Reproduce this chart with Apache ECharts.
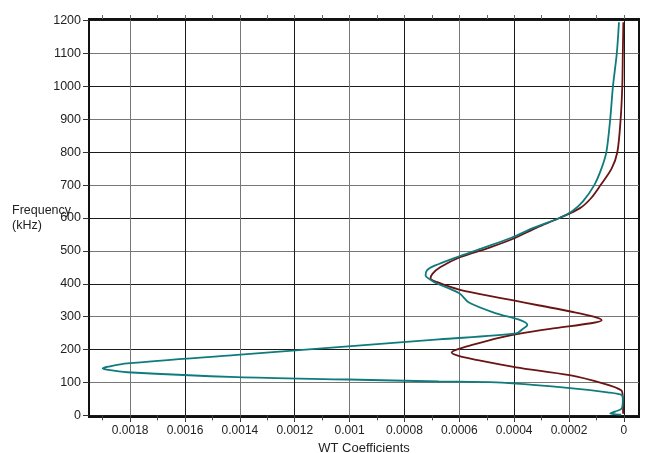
<!DOCTYPE html>
<html>
<head>
<meta charset="utf-8">
<title>WT Coefficients</title>
<script src="https://cdn.jsdelivr.net/npm/echarts@6/dist/echarts.min.js"></script>
<style>
html, body { margin: 0; padding: 0; background: #fff; }
#main { width: 647px; height: 453px; }
</style>
</head>
<body>
<div id="main"></div>
<script>
// frequency (kHz) against WT coefficient
var redFreq = [1195, 1100, 1000, 900, 800, 750, 700, 660, 630, 600, 570, 540, 510, 480, 450, 430, 416, 405, 390, 380, 365, 350, 334, 315, 300, 289, 280, 265, 250, 235, 215, 200, 191, 180, 167, 146, 122, 97, 76, 55, 20, 5];
var redCoef = [0.000002, 0.000004, 0.000006, 0.000012, 0.000024, 0.000045, 0.000085, 0.00012, 0.00016, 0.000235, 0.00032, 0.000395, 0.00049, 0.0006, 0.00067, 0.000698, 0.000705, 0.00068, 0.00063, 0.00059, 0.0005, 0.000407, 0.000308, 0.00019, 0.00011, 0.000081, 0.00012, 0.00025, 0.00037, 0.00046, 0.00055, 0.00061, 0.000628, 0.0006, 0.000528, 0.000393, 0.000198, 0.000077, 0.00001, 0.000004, 0.000003, 0.000003];

var tealFreq = [1195, 1100, 1000, 900, 800, 750, 700, 650, 620, 600, 570, 540, 510, 480, 455, 441, 425, 412, 404, 371, 343, 310, 290, 275, 262, 249, 231, 210, 184, 158, 148, 143, 138, 131, 116, 109, 103, 100, 85, 70, 61, 46, 21, 12, 6, 2];
var tealCoef = [0.000018, 0.000026, 0.00004, 0.00005, 0.000064, 0.000082, 0.000108, 0.00015, 0.00019, 0.000235, 0.00033, 0.00041, 0.00051, 0.000613, 0.00069, 0.000718, 0.000723, 0.000705, 0.00069, 0.0006, 0.000565, 0.000466, 0.00038, 0.000352, 0.00037, 0.000393, 0.000675, 0.001006, 0.00141, 0.00181, 0.00188, 0.0019, 0.00188, 0.00181, 0.00141, 0.001006, 0.000675, 0.000466, 0.000224, 0.00006, 0.000007, 0.000004, 0.000008, 0.00003, 0.00005, 0.00001];

// axis ticks and labels
var coefMinorTicks = [0, 0.0001, 0.0002, 0.0003, 0.0004, 0.0005, 0.0006, 0.0007, 0.0008, 0.0009, 0.001, 0.0011, 0.0012, 0.0013, 0.0014, 0.0015, 0.0016, 0.0017, 0.0018, 0.0019];
var coefLabels = [0, 0.0002, 0.0004, 0.0006, 0.0008, 0.001, 0.0012, 0.0014, 0.0016, 0.0018];
var freqTicks = [0, 100, 200, 300, 400, 500, 600, 700, 800, 900, 1000, 1100, 1200];

var font = "'Liberation Sans', Arial, sans-serif";

function pairs(xs, ys) {
  return ys.map(function (f, i) { return [xs[i], f]; });
}

var coefMin = -0.000055;
var coefMax = 0.00195;

var myChart = echarts.init(document.getElementById("main"));
myChart.setOption({
  animation: false,
  backgroundColor: "#fff",
  textStyle: { fontFamily: font },
  title: {
    text: "Frequency\n(kHz)",
    left: 12,
    top: 203,
    padding: 0,
    textStyle: {
      fontFamily: font,
      fontSize: 12.5,
      fontWeight: "normal",
      color: "#222",
      lineHeight: 15
    }
  },
  grid: {
    left: 89,
    right: 8,
    top: 19,
    bottom: 36,
    containLabel: false,
    outerBoundsMode: "none",
    show: true,
    borderColor: "#111",
    borderWidth: 2
  },
  xAxis: [
    {
      // major ticks, labels and vertical grid
      type: "value",
      position: "bottom",
      inverse: true,
      min: coefMin,
      max: coefMax,
      name: "WT Coefficients",
      nameLocation: "middle",
      nameGap: 23,
      nameTextStyle: { fontFamily: font, fontSize: 13, color: "#222" },
      axisLine: { show: true, onZero: false, lineStyle: { color: "#111", width: 2 } },
      axisTick: {
        show: true,
        length: 5,
        customValues: coefLabels,
        lineStyle: { color: "#333" }
      },
      axisLabel: {
        customValues: coefLabels,
        fontFamily: font,
        fontSize: 12,
        color: "#222",
        margin: 8,
        formatter: function (v) {
          return String(parseFloat(v.toPrecision(6)));
        }
      },
      splitLine: {
        show: true,
        lineStyle: { color: ["#1a1a1a", "#777"], width: 1 }
      }
    },
    {
      // top ticks
      type: "value",
      position: "top",
      inverse: true,
      min: coefMin,
      max: coefMax,
      axisLine: { show: true, onZero: false, lineStyle: { color: "#111", width: 2 } },
      axisTick: {
        show: true,
        length: 4,
        customValues: coefMinorTicks,
        lineStyle: { color: "#666" }
      },
      axisLabel: { show: false },
      splitLine: { show: false }
    },
    {
      // bottom minor ticks
      type: "value",
      position: "bottom",
      inverse: true,
      min: coefMin,
      max: coefMax,
      axisLine: { show: false },
      axisTick: {
        show: true,
        length: 5,
        customValues: coefMinorTicks,
        lineStyle: { color: "#444" }
      },
      axisLabel: { show: false },
      splitLine: { show: false }
    }
  ],
  yAxis: {
    type: "value",
    min: -5,
    max: 1205,
    axisLine: { show: true, onZero: false, lineStyle: { color: "#111", width: 2 } },
    axisTick: {
      show: true,
      length: 6,
      customValues: freqTicks,
      lineStyle: { color: "#333" }
    },
    axisLabel: {
      customValues: freqTicks,
      fontFamily: font,
      fontSize: 12.5,
      color: "#222",
      margin: 8,
      formatter: function (v) { return String(v); }
    },
    splitLine: {
      show: true,
      lineStyle: { color: ["#1a1a1a", "#777"], width: 1 }
    }
  },
  series: [
    {
      name: "red",
      type: "line",
      xAxisIndex: 0,
      showSymbol: false,
      smooth: 0.3,
      lineStyle: { color: "#6a1414", width: 1.8 },
      itemStyle: { color: "#6a1414" },
      data: pairs(redCoef, redFreq)
    },
    {
      name: "teal",
      type: "line",
      xAxisIndex: 0,
      showSymbol: false,
      smooth: 0.3,
      lineStyle: { color: "#0f7b7c", width: 1.8 },
      itemStyle: { color: "#0f7b7c" },
      data: pairs(tealCoef, tealFreq)
    }
  ]
});
</script>
</body>
</html>
